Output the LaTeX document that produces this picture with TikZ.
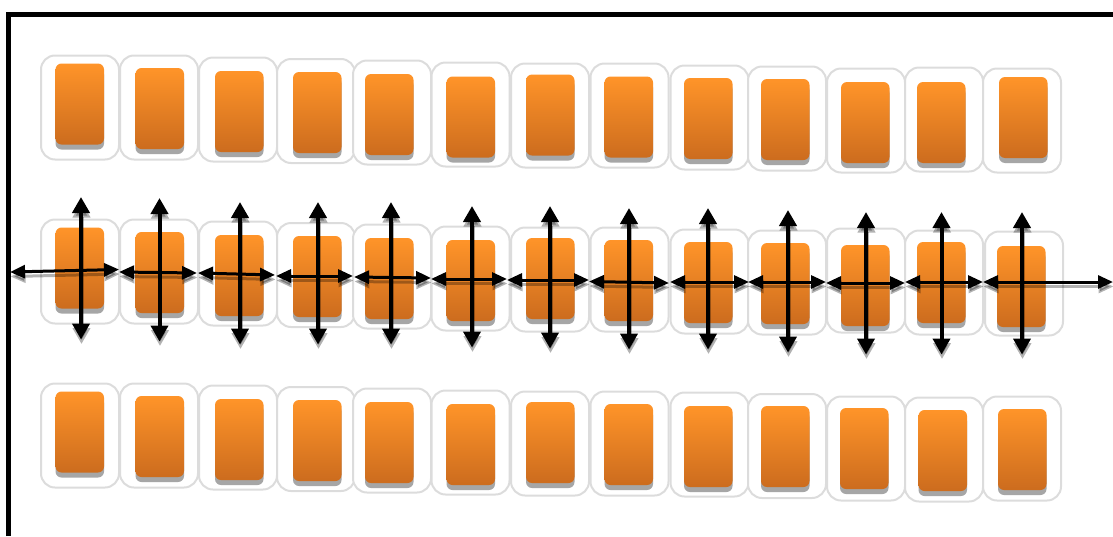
\documentclass[tikz,border=0pt]{standalone}
\usetikzlibrary{arrows.meta}
\definecolor{tileedge}{HTML}{DCDCDC}
\definecolor{tiletop}{HTML}{FF9429}
\definecolor{tilebottom}{HTML}{CC6C1E}
\definecolor{tileshade}{HTML}{A6A6A6}
\tikzset{
	tilebox/.style={draw=tileedge,line width=2pt,fill=white,rounded corners=14pt,minimum width=78pt,minimum height=104pt,inner sep=0pt,outer sep=0pt,anchor=north west},
	tilecore/.style={rounded corners=6pt,minimum width=48.5pt,minimum height=81pt,inner sep=0pt,outer sep=0pt,anchor=north west},
	tilefill/.style={tilecore,top color=tiletop,bottom color=tilebottom},
	tileshadow/.style={tilecore,fill=tileshade},
	sideways/.style={line width=3pt,{Triangle[length=15pt,width=13pt]}-{Triangle[length=15pt,width=13pt]}},
	upright/.style={line width=4pt,{Triangle[length=16pt,width=17pt]}-{Triangle[length=16pt,width=17pt]}},
}
\def\link[#1](#2)(#3,#4)(#5,#6){\coordinate (#2from) at (#3,#4);
	\coordinate (#2to) at (#5,#6);
	\draw[#1,black,opacity=0.3,transform canvas={shift={(0.5pt,-4.5pt)}}] (#2from) -- (#2to);
	\draw[#1] (#2from) -- (#2to);}
\def\tile(#1)(#2,#3)(#4,#5){\node[tilebox] (#1) at (#2,#3) {};
	\node[tileshadow] (#1shade) at (#4,#5+5) {};
	\node[tilefill] (#1core) at (#4,#5) {};}

\begin{document}
\begin{tikzpicture}[x=1pt,y=-1pt]
		%%%%% START %%%%%
		\useasboundingbox (0, 0) rectangle (1113, 536);
		\coordinate (framelow) at (8, 536);
		\coordinate (framecorner) at (8, 14.7);
		\coordinate (frameend) at (1113, 14.7);
		\draw[line width=5pt] (framelow) -- (framecorner) -- (frameend);
		
		% top row
		\tile(a1)(41, 55.5)(55.5, 63.5)
		\tile(a2)(120, 55.5)(135.5, 68)
		\tile(a3)(199, 57.5)(215, 71)
		\tile(a4)(277, 59)(293, 72)
		\tile(a5)(353, 60.5)(365, 74)
		\tile(a6)(431.5, 62.5)(446.5, 76.5)
		\tile(a7)(511, 63.5)(526, 74.5)
		\tile(a8)(590.5, 63.5)(604.5, 76.5)
		\tile(a9)(670.5, 65.5)(684, 78)
		\tile(a10)(748, 66.5)(761, 79)
		\tile(a11)(827, 68.5)(841, 82)
		\tile(a12)(905, 67.5)(917, 82)
		\tile(a13)(983, 68.5)(999, 77)
		
		% middle row
		\tile(b1)(41, 219.5)(55.5, 227.5)
		\tile(b2)(120, 219.5)(135.5, 232)
		\tile(b3)(199, 221.5)(215, 235)
		\tile(b4)(277, 223)(293, 236)
		\tile(b5)(353, 224.5)(365, 238)
		\tile(b6)(431.5, 226.5)(446.5, 240)
		\tile(b7)(511, 227.5)(526, 238)
		\tile(b8)(590.5, 227.5)(604.5, 240)
		\tile(b9)(670.5, 229.5)(684, 242)
		\tile(b10)(748, 230.5)(761, 243)
		\tile(b11)(827, 228.5)(841, 245)
		\tile(b12)(905, 230.5)(917, 242)
		\tile(b13)(985, 231.5)(997, 246)
		
		% bottom row
		\tile(c1)(41, 383.5)(55.5, 391.5)
		\tile(c2)(120, 383.5)(135.5, 396)
		\tile(c3)(199, 385.5)(215, 399)
		\tile(c4)(277, 387)(293, 400)
		\tile(c5)(353, 388.5)(365, 402)
		\tile(c6)(431.5, 390.5)(446.5, 404)
		\tile(c7)(511, 391.5)(526, 402)
		\tile(c8)(590.5, 391.5)(604.5, 404)
		\tile(c9)(670.5, 392.5)(684, 406)
		\tile(c10)(748, 394)(761, 406)
		\tile(c11)(827, 396.5)(840, 408)
		\tile(c12)(905, 397.5)(918.5, 410)
		\tile(c13)(983, 396.5)(998, 409)
		
		% sideways arrows
		\link[sideways](h1)(10, 272)(119, 269.5)
		\link[sideways](h2)(119, 272)(197, 273)
		\link[sideways](h3)(198, 273)(275, 275)
		\link[sideways](h4)(276, 276)(353, 276)
		\link[sideways](h5)(354, 277)(431, 278)
		\link[sideways](h6)(431, 279)(507, 279)
		\link[sideways](h7)(507, 280)(589, 280)
		\link[sideways](h8)(589, 281.5)(669, 283)
		\link[sideways](h9)(670, 282)(749, 282)
		\link[sideways](h10)(748, 282)(826, 282)
		\link[sideways](h11)(826, 283)(905, 283)
		\link[sideways](h12)(905, 282)(983, 282)
		\link[sideways](h13)(983, 282)(1113, 282)
		
		% upright arrows
		\link[upright](v1)(81, 197)(81, 339.5)
		\link[upright](v2)(159.5, 198)(159.5, 341.5)
		\link[upright](v3)(240, 202)(240, 344.5)
		\link[upright](v4)(318, 202)(318, 344.5)
		\link[upright](v5)(391, 202)(391, 344.5)
		\link[upright](v6)(472, 206)(472, 347.5)
		\link[upright](v7)(550, 206)(550, 348.5)
		\link[upright](v8)(629, 208)(629, 349.5)
		\link[upright](v9)(708, 208)(708, 349.5)
		\link[upright](v10)(788, 210)(788, 352.5)
		\link[upright](v11)(866, 212)(866, 354.5)
		\link[upright](v12)(941.5, 212)(941.5, 354.5)
		\link[upright](v13)(1022, 212)(1022, 354.5)
		%%%%% END %%%%%
	\end{tikzpicture}
\end{document}
